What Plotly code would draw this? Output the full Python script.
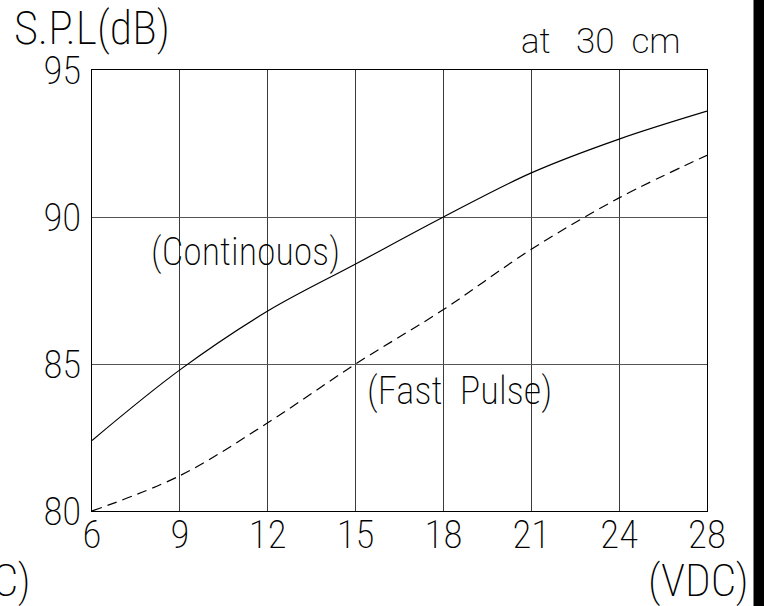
import plotly.graph_objects as go

# ---- data ----
voltages = ["6", "9", "12", "15", "18", "21", "24", "28"]
continuous_spl = [82.4, 84.8, 86.8, 88.4, 90.0, 91.5, 92.65, 93.6]
fast_pulse_spl = [80.0, 81.2, 83.0, 85.0, 86.85, 88.9, 90.65, 92.1]
y_ticks = [80, 85, 90, 95]

FONT = "Roboto Condensed, Roboto, sans-serif"
WEIGHT = 200
W, H = 764, 606
L, R, T, B = 92, 57, 70, 95
PW, PH = W - L - R, H - T - B


def px(x):  # page pixel -> paper
    return (x - L) / PW


def py(y):
    return (H - B - y) / PH


fig = go.Figure()
fig.add_trace(go.Scatter(x=voltages, y=continuous_spl, mode="lines",
                         line=dict(color="black", width=1.2, shape="spline", smoothing=1.0),
                         name="Continuous", showlegend=False))
fig.add_trace(go.Scatter(x=voltages, y=fast_pulse_spl, mode="lines",
                         line=dict(color="black", width=1.2, shape="spline", smoothing=1.0, dash="10px,6px"),
                         name="Fast Pulse", showlegend=False))

tickfont = dict(family=FONT, size=39, color="black", weight=WEIGHT)
fig.update_xaxes(type="category", range=[0, len(voltages) - 1], showgrid=True, gridcolor="#3a3a3a", gridwidth=1,
                 showline=True, linecolor="black", linewidth=1, mirror=True, ticks="", tickfont=tickfont,
                 zeroline=False, ticklabelstandoff=-11)
fig.update_yaxes(range=[80, 95], tickvals=y_ticks, showgrid=True, gridcolor="#555", gridwidth=1,
                 showline=True, linecolor="black", linewidth=1, mirror=True, ticks="", tickfont=tickfont,
                 zeroline=False, ticklabelstandoff=2)

# white gaps in the grid behind the curve labels
for x0, x1, y0, y1 in [(150, 340, 227, 285), (365, 554, 372, 426)]:
    fig.add_shape(type="rect", xref="paper", yref="paper", x0=px(x0), x1=px(x1), y0=py(y1), y1=py(y0),
                  fillcolor="white", line_width=0, layer="between")

# black strip at right edge of the picture
fig.add_shape(type="rect", xref="paper", yref="paper", x0=px(754), x1=px(764), y0=py(606), y1=py(0),
              fillcolor="black", line=dict(color="black", width=1), layer="above")


def ann(text, x, y, size, xanchor="center", family=FONT):
    fig.add_annotation(text=text, x=x, y=y, xref="paper", yref="paper", xanchor=xanchor, yanchor="middle",
                       showarrow=False, font=dict(family=family, size=size, color="black", weight=WEIGHT))


ann("S.P.L(dB)", px(12), py(28), 46, "left")
ann("at\u00a0\u00a0\u00a030\u00a0\u00a0cm", px(601), py(41.5), 35, family="Roboto, sans-serif")
ann("(Continouos)", px(245), py(251.5), 38)
ann("(Fast\u00a0\u00a0Pulse)", px(459.5), py(390.5), 38.5)
ann("(VDC)", px(698.5), py(580), 45)
ann("(VDC)", px(33), py(580), 45, "right")

fig.update_layout(width=W, height=H, margin=dict(l=L, r=R, t=T, b=B, autoexpand=False),
                  paper_bgcolor="white", plot_bgcolor="white", showlegend=False)
fig.write_html("out.html", config={"displayModeBar": False},
               post_script="document.documentElement.style.overflow='hidden';"
                           "document.body.style.margin='0';document.body.style.overflow='hidden';")
